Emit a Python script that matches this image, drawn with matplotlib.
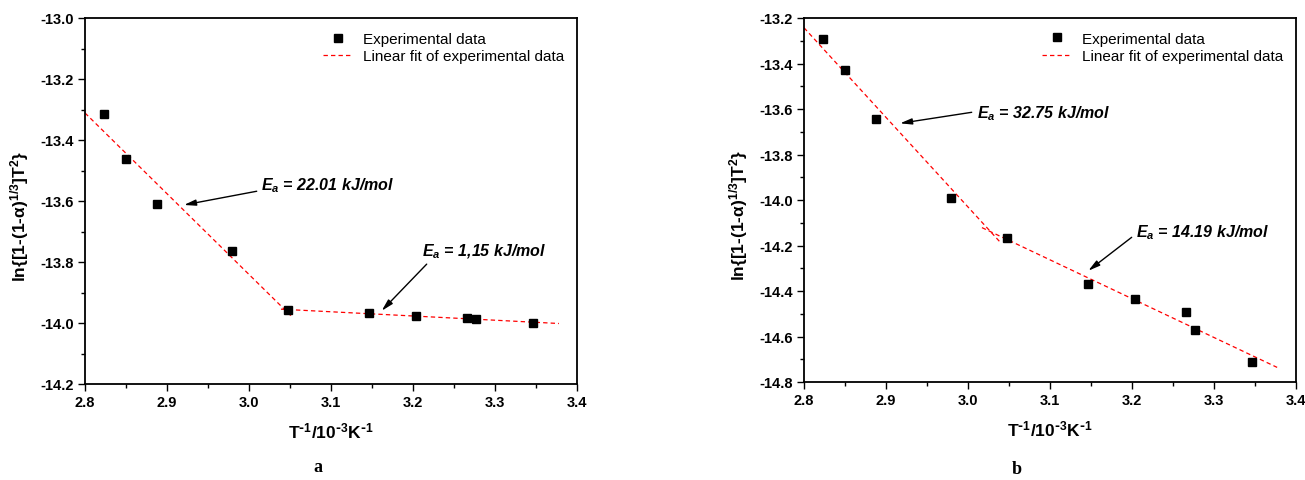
import numpy as np
import matplotlib
matplotlib.use('Agg')
import matplotlib.pyplot as plt
from matplotlib.ticker import MultipleLocator

plt.rcParams['font.family'] = ['Liberation Sans', 'DejaVu Sans']
plt.rcParams['font.weight'] = 'bold'
plt.rcParams['mathtext.default'] = 'regular'  # math parts use the text's own font
plt.rcParams['axes.unicode_minus'] = False

R = 8.314  # J/(mol K)

# 1/T in 10^-3 K^-1 (same temperatures for both samples)
inv_T = [2.823, 2.850, 2.888, 2.979, 3.047, 3.146, 3.204, 3.266, 3.277, 3.346]
# ln{[1-(1-a)^(1/3)]T^2}
ln_a = [-13.314, -13.462, -13.611, -13.765, -13.959,
        -13.968, -13.977, -13.983, -13.988, -13.999]
ln_b = [-13.292, -13.430, -13.645, -13.992, -14.168,
        -14.371, -14.434, -14.492, -14.571, -14.713]
# activation energies, kJ/mol (low-T region, high-T region)
ea_a = [22.01, 1.15]
ea_b = [32.75, 14.19]
ea_lbl_a = ['22.01', '1,15']
ea_lbl_b = ['32.75', '14.19']


def fit_segment(x, y, ea, x0, x1):
    """Line with slope -Ea/R through the mean of the points."""
    x = np.asarray(x)
    y = np.asarray(y)
    k = -ea / R
    b = np.mean(y - k * x)
    xs = np.array([x0, x1])
    return xs, k * xs + b


def draw_panel(ax, y, ea, ea_lbl, ylim, yminor, segs, notes):
    pts, = ax.plot(inv_T, y, 's', color='black', ms=6.3, ls='none',
                   label='Experimental data', zorder=3)
    fit1 = None
    for (i0, i1, x0, x1), e in zip(segs, ea):
        xs, ys = fit_segment(inv_T[i0:i1], y[i0:i1], e, x0, x1)
        ln, = ax.plot(xs, ys, color='red', lw=0.9, dashes=(3.5, 2.5),
                      label='Linear fit of experimental data', zorder=2)
        if fit1 is None:
            fit1 = ln
    for (tx, ty, hx, hy, lx, ly), lbl in zip(notes, ea_lbl):
        ax.annotate('', xy=(hx, hy), xytext=(tx, ty),
                    arrowprops=dict(arrowstyle='-|>,head_length=0.7,head_width=0.18',
                                    color='black', lw=1.0, shrinkA=0, shrinkB=0))
        ax.text(lx, ly, r'$E_a$ = ' + lbl + ' kJ/mol', fontsize=11.5,
                fontweight='bold', fontstyle='italic', va='center', ha='left')

    ax.set_xlim(2.8, 3.4)
    ax.set_ylim(*ylim)
    ax.xaxis.set_major_locator(MultipleLocator(0.1))
    ax.xaxis.set_minor_locator(MultipleLocator(0.05))
    ax.yaxis.set_major_locator(MultipleLocator(0.2))
    ax.yaxis.set_minor_locator(MultipleLocator(yminor))
    ax.tick_params(which='both', direction='out', top=False, right=False,
                   width=1.0, labelsize=10.5, pad=3)
    ax.tick_params(which='major', length=5)
    ax.tick_params(which='minor', length=3)
    for sp in ax.spines.values():
        sp.set_linewidth(1.3)

    ax.set_xlabel(r'T$^{\text{-}1}$/10$^{\text{-}3}$K$^{\text{-}1}$', fontsize=12.5,
                  fontweight='bold', labelpad=8)
    ax.set_ylabel(r'ln{[1-(1-α)$^{1/3}$]T$^{2}$}', fontsize=12.5, fontweight='bold')
    ax.yaxis.set_label_coords(-0.11, 0.46)

    ax.legend([pts, fit1], ['Experimental data', 'Linear fit of experimental data'],
              loc='upper left', bbox_to_anchor=(0.468, 0.983), frameon=False,
              prop={'size': 11, 'weight': 'normal'}, borderpad=0,
              handlelength=2.0, handletextpad=0.6, labelspacing=0.2, numpoints=1)


fig = plt.figure(figsize=(13.05, 4.81), dpi=100)
ax_a = fig.add_axes([85 / 1305, 1 - 385 / 481, 492 / 1305, 366 / 481])
ax_b = fig.add_axes([804 / 1305, 1 - 383 / 481, 492 / 1305, 364 / 481])

draw_panel(ax_a, ln_a, ea_a, ea_lbl_a, (-14.2, -13.0), 0.1,
           [(0, 5, 2.8, 3.051), (4, 10, 3.039, 3.378)],
           [(3.0094, -13.568, 2.9207, -13.613, 3.0146, -13.548),
            (3.2167, -13.807, 3.1618, -13.960, 3.2106, -13.763)])
draw_panel(ax_b, ln_b, ea_b, ea_lbl_b, (-14.8, -13.2), 0.1,
           [(0, 5, 2.8, 3.040), (4, 10, 3.017, 3.377)],
           [(3.0045, -13.6145, 2.9171, -13.663, 3.0106, -13.6145),
            (3.1996, -14.164, 3.1467, -14.311, 3.2049, -14.139)])

fig.text(318 / 1305, 1 - 468 / 481, 'a', family='Liberation Serif',
         fontweight='bold', fontsize=13, ha='center', va='center')
fig.text(1017 / 1305, 1 - 470 / 481, 'b', family='Liberation Serif',
         fontweight='bold', fontsize=13, ha='center', va='center')

fig.savefig('out.png', dpi=100)
